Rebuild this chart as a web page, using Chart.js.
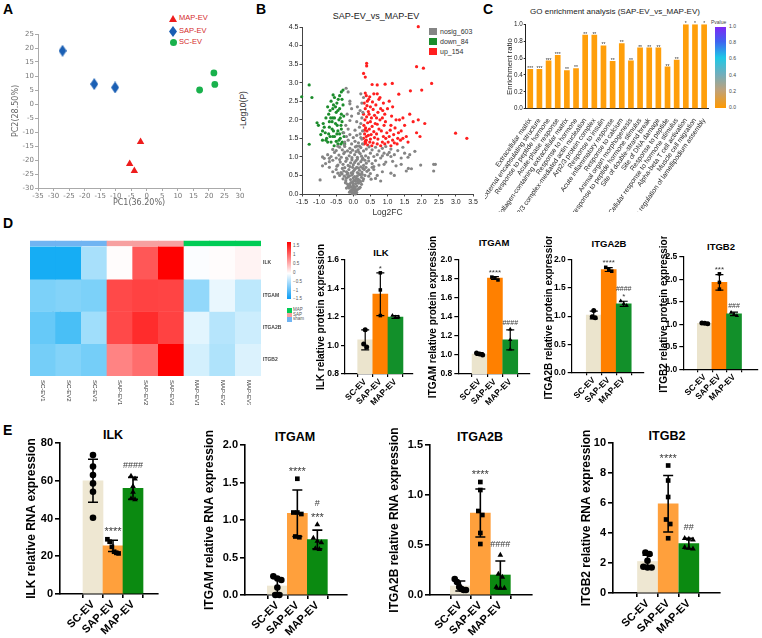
<!DOCTYPE html>
<html>
<head>
<meta charset="utf-8">
<title>EV figure</title>
<script src="https://cdn.jsdelivr.net/npm/chart.js@4.4.1/dist/chart.umd.min.js"></script>
<style>
  html, body { margin: 0; padding: 0; background: #fff; }
  #fig { position: relative; width: 762px; height: 638px; overflow: hidden; font-family: "Liberation Sans", Arial, sans-serif; color: #000; }
  #fig canvas { position: absolute; }
  .t { position: absolute; white-space: nowrap; line-height: 1; }
  .c { transform: translateX(-50%); }
  .b { font-weight: bold; }
  .letter { position: absolute; line-height: 1; font-weight: bold; font-size: 14px; }
  .sw { position: absolute; }
</style>
</head>
<body>
<div id="fig">
  <div class="letter" style="left:3px;top:2px">A</div>
  <div class="letter" style="left:256px;top:2px">B</div>
  <div class="letter" style="left:483px;top:2px">C</div>
  <div class="letter" style="left:3px;top:216px">D</div>
  <div class="letter" style="left:3px;top:423px">E</div>

  <!-- A legend -->
  <div class="sw" style="left:169px;top:15px;width:0;height:0;border-left:4px solid transparent;border-right:4px solid transparent;border-bottom:7px solid #ee1c1c"></div>
  <div class="sw" style="left:169px;top:26px;width:8px;height:11px;background:#1a5fb4;clip-path:polygon(50% 0,100% 50%,50% 100%,0 50%)"></div>
  <div class="sw" style="left:170px;top:39px;width:7px;height:7px;border-radius:50%;background:#19b14c"></div>
  <div class="t" style="left:179px;top:14px;font-size:7.5px;color:#d42a2a">MAP-EV</div>
  <div class="t" style="left:179px;top:27px;font-size:7.5px;color:#d42a2a">SAP-EV</div>
  <div class="t" style="left:179px;top:38px;font-size:7.5px;color:#d42a2a">SC-EV</div>

  <!-- B title, axis title and legend -->
  <div class="t c" style="left:376px;top:12px;font-size:9px;color:#222">SAP-EV_vs_MAP-EV</div>
  <div class="t" style="left:243px;top:110px;font-size:8.5px;color:#333;transform:translate(-50%,-50%) rotate(-90deg)">-Log10(P)</div>
  <div class="sw" style="left:429px;top:28px;width:8px;height:7px;background:#858585"></div>
  <div class="sw" style="left:429px;top:38px;width:8px;height:7px;background:#1c8c2c"></div>
  <div class="sw" style="left:429px;top:48px;width:8px;height:7px;background:#ff1f1f"></div>
  <div class="t" style="left:440px;top:28px;font-size:7px;color:#333">nosig_603</div>
  <div class="t" style="left:440px;top:38px;font-size:7px;color:#333">down_84</div>
  <div class="t" style="left:440px;top:48px;font-size:7px;color:#333">up_154</div>

  <!-- C title and colour bar -->
  <div class="t c" style="left:615px;top:8px;font-size:8px;color:#222">GO enrichment analysis (SAP-EV_vs_MAP-EV)</div>
  <div class="t" style="left:711px;top:20px;font-size:5px;color:#444">Pvalue</div>
  <div class="sw" style="left:715px;top:27px;width:11px;height:81px;background:linear-gradient(to bottom,#7d28f5 0%,#3f63f0 18%,#1ec8e6 38%,#70aebd 58%,#bfa27a 78%,#ff9900 100%)"></div>
  <div class="t" style="left:729px;top:24px;font-size:5px;color:#444">1.0</div>
  <div class="t" style="left:729px;top:40px;font-size:5px;color:#444">0.8</div>
  <div class="t" style="left:729px;top:56px;font-size:5px;color:#444">0.6</div>
  <div class="t" style="left:729px;top:73px;font-size:5px;color:#444">0.4</div>
  <div class="t" style="left:729px;top:89px;font-size:5px;color:#444">0.2</div>
  <div class="t" style="left:729px;top:105px;font-size:5px;color:#444">0.0</div>

  <!-- D heatmap legend -->
  <div class="sw" style="left:287px;top:242px;width:4px;height:57px;background:linear-gradient(to bottom,#ff0000 0%,#ffffff 55%,#0a9cf5 100%)"></div>
  <div class="t" style="left:293px;top:244px;font-size:4.5px;color:#555">1.5</div>
  <div class="t" style="left:293px;top:253px;font-size:4.5px;color:#555">1</div>
  <div class="t" style="left:293px;top:262px;font-size:4.5px;color:#555">0.5</div>
  <div class="t" style="left:293px;top:271px;font-size:4.5px;color:#555">0</div>
  <div class="t" style="left:293px;top:280px;font-size:4.5px;color:#555">−0.5</div>
  <div class="t" style="left:293px;top:289px;font-size:4.5px;color:#555">−1</div>
  <div class="t" style="left:293px;top:297px;font-size:4.5px;color:#555">−1.5</div>
  <div class="sw" style="left:287px;top:308px;width:5px;height:5px;background:#00cc55"></div>
  <div class="sw" style="left:287px;top:313px;width:5px;height:4px;background:#f7a0a0"></div>
  <div class="sw" style="left:287px;top:317px;width:5px;height:5px;background:#70b4f2"></div>
  <div class="t" style="left:293px;top:308px;font-size:4.5px;color:#555">MAP</div>
  <div class="t" style="left:293px;top:313px;font-size:4.5px;color:#555">SAP</div>
  <div class="t" style="left:293px;top:317px;font-size:4.5px;color:#555">sham</div>

  <!-- D bar chart titles -->
  <div class="t c b" style="left:381px;top:248px;font-size:9.5px">ILK</div>
  <div class="t c b" style="left:494px;top:238px;font-size:9.5px">ITGAM</div>
  <div class="t c b" style="left:609px;top:239px;font-size:9.5px">ITGA2B</div>
  <div class="t c b" style="left:721px;top:242px;font-size:9.5px">ITGB2</div>

  <!-- E bar chart titles -->
  <div class="t c b" style="left:113px;top:429px;font-size:12.5px">ILK</div>
  <div class="t c b" style="left:295px;top:431px;font-size:12.5px">ITGAM</div>
  <div class="t c b" style="left:480px;top:431px;font-size:12.5px">ITGA2B</div>
  <div class="t c b" style="left:667px;top:430px;font-size:12.5px">ITGB2</div>
</div>

<script>
// ---------- A: PCA scores ----------
const pcaMAP = [[-2.0, -13.5], [-5.5, -21.4], [-4.0, -23.9]];
const pcaSAP = [[-27.1, 19.0], [-16.9, 7.1], [-10.2, 5.9]];
const pcaSC = [[17.0, 5.0], [21.6, 11.1], [21.9, 7.0]];

// ---------- B: volcano (Log2FC, -log10 P) ----------
const volUp = [
  [0.32,1.35],[0.35,1.42],[0.30,1.50],[0.38,1.55],[0.33,1.62],[0.40,1.70],[0.36,1.78],[0.31,1.85],[0.42,1.92],[0.34,2.00],
  [0.39,2.08],[0.30,2.15],[0.44,2.22],[0.35,2.30],[0.40,2.38],[0.32,2.45],[0.45,2.55],[0.38,2.65],[0.35,2.72],[0.48,1.40],
  [0.50,1.48],[0.52,1.60],[0.47,1.75],[0.55,1.82],[0.50,1.95],[0.53,2.05],[0.46,2.15],[0.58,2.28],[0.50,2.35],[0.56,2.48],
  [0.48,2.62],[0.60,2.70],[0.42,1.32],[0.58,1.38],[0.62,1.52],[0.60,1.68],[0.64,1.90],[0.62,2.12],[0.66,2.40],[0.38,1.45],
  [0.44,1.58],[0.36,1.38],[0.41,2.50],[0.54,1.30],[0.33,1.72],[0.70,1.35],[0.72,1.48],[0.68,1.62],[0.75,1.75],[0.70,1.88],
  [0.78,2.00],[0.72,2.20],[0.80,2.30],[0.75,2.55],[0.70,2.70],[0.85,1.40],[0.88,1.55],[0.82,1.70],[0.90,1.85],[0.85,2.05],
  [0.92,2.15],[0.88,2.45],[0.95,1.50],[0.98,1.65],[0.94,1.95],[1.00,2.30],[0.80,1.30],[0.92,1.35],[0.78,2.60],[0.68,2.05],
  [0.86,2.25],[1.02,1.40],[1.05,1.55],[1.08,1.72],[1.10,1.85],[1.12,2.10],[1.05,2.50],[1.15,1.45],[1.18,1.60],[1.20,1.38],
  [1.22,1.78],[1.25,2.00],[1.30,1.50],[1.32,1.65],[1.35,2.00],[1.38,1.45],[1.15,2.35],[1.28,1.35],[1.10,1.30],[1.40,1.70],
  [1.33,2.69],[1.14,2.98],[0.93,2.96],[0.70,2.94],[0.55,2.95],[1.45,1.50],[1.50,1.85],[1.45,2.05],[1.55,1.55],[1.60,1.40],
  [1.67,2.78],[1.75,1.95],[1.85,1.65],[1.90,2.00],[2.00,2.80],[2.09,1.90],[1.95,1.55],[1.85,3.43],[2.05,3.39],[2.29,2.98],
  [1.90,4.51],[2.99,1.64],[3.32,1.50],[1.65,2.15],[0.39,3.52],[0.39,3.45],[0.30,3.25],[0.35,3.15]
];
const volDown = [
  [-1.51,2.62],[-1.29,2.94],[-1.21,2.60],[-1.29,1.34],[-1.06,1.92],[-1.02,1.85],[-0.95,1.60],[-0.90,1.45],[-0.85,1.80],
  [-0.80,2.05],[-0.75,2.35],[-0.78,1.50],[-0.72,1.62],[-0.70,1.95],[-0.68,2.25],[-0.65,1.40],[-0.62,1.75],[-0.60,2.05],
  [-0.58,2.40],[-0.55,2.60],[-0.55,1.55],[-0.52,1.90],[-0.50,2.20],[-0.48,2.45],[-0.45,1.35],[-0.45,1.70],[-0.42,2.00],
  [-0.40,2.30],[-0.40,2.65],[-0.38,1.50],[-0.36,1.85],[-0.35,2.15],[-0.33,2.55],[-0.32,1.40],[-0.30,1.65],[-0.30,2.80],
  [-0.35,2.75],[-0.59,2.67],[-0.65,2.50],[-0.72,2.15],[-0.82,1.65],[-0.88,1.90],[-0.60,1.55],[-0.48,1.62],[-0.42,1.45],
  [-0.38,2.05],[-0.55,2.05],[-0.62,1.95],[-0.70,1.80],[-0.75,1.40],[-0.68,1.55],[-0.50,1.42],[-0.45,2.25],[-0.33,1.95],
  [-0.52,2.35],[-0.60,2.30],[-0.40,1.62],[-0.36,1.35],[-0.58,1.70],[-0.66,2.05],[-0.44,2.55],[-0.30,2.40],[-0.80,1.45],
  [-0.90,1.70],[-0.35,1.75],[-0.47,1.85],[-0.56,1.30],[-0.27,1.55],[-0.28,2.10],[-0.25,1.35]
];
const volNosig = [
  [0,0.02],[0.04,0.05],[-0.04,0.03],[0.08,0.08],[-0.08,0.07],[0.02,0.11],[-0.02,0.01],[0.06,0.0],[-0.06,0.1],[0.1,0.04],
  [-0.11,0.05],[0.12,0.12],[0.0,0.14],[-0.03,0.08],[0.05,0.13],[-0.2,0.16],[-0.15,0.21],[-0.1,0.26],[-0.05,0.18],[0,0.23],
  [0.05,0.16],[0.1,0.21],[0.15,0.29],[0.2,0.18],[0.24,0.26],[-0.23,0.3],[-0.02,0.32],[0.07,0.28],[0.17,0.15],[-0.12,0.16],
  [0.03,0.19],[-0.07,0.31],[0.12,0.34],[-0.17,0.27],[0.21,0.33],[0.0,0.28],[-0.09,0.21],[-0.3,0.41],[-0.22,0.36],[-0.15,0.46],
  [-0.08,0.39],[0,0.43],[0.06,0.36],[0.12,0.49],[0.18,0.37],[0.24,0.45],[0.3,0.41],[0.34,0.5],[-0.18,0.53],[-0.04,0.51],
  [0.09,0.42],[0.2,0.52],[-0.26,0.48],[0.28,0.36],[0.14,0.4],[-0.11,0.49],[0.02,0.37],[-0.33,0.54],[0.04,0.47],[-0.02,0.55],
  [0.16,0.55],[-0.2,0.43],[0.26,0.53],[-0.36,0.58],[-0.28,0.62],[-0.2,0.6],[-0.13,0.66],[-0.06,0.57],[0,0.61],[0.06,0.68],
  [0.12,0.58],[0.18,0.64],[0.25,0.59],[0.32,0.66],[0.4,0.61],[-0.25,0.71],[0.1,0.72],[0.22,0.73],[-0.1,0.74],[0.03,0.65],
  [0.15,0.7],[-0.32,0.69],[0.37,0.72],[-0.16,0.56],[0.28,0.69],[-0.02,0.72],[0.45,0.65],[-0.6,0.6],[-0.5,0.66],[-0.7,0.72],
  [-0.45,0.56],[-0.97,0.38],[-0.55,0.46],[-0.4,0.5],[-0.48,0.75],[0.5,0.55],[0.6,0.66],[0.7,0.5],[0.55,0.72],[0.85,0.6],
  [1.1,0.56],[1.2,0.5],[1.61,0.69],[2.35,0.62],[2.4,0.8],[1.97,0.78],[1.7,0.68],[0.9,0.8],[0.45,0.48],[0.52,0.4],
  [0.65,0.42],[0.8,0.35],[-0.45,0.78],[-0.38,0.86],[-0.3,0.8],[-0.22,0.88],[-0.15,0.77],[-0.08,0.84],[0,0.79],[0.08,0.9],
  [0.15,0.81],[0.22,0.87],[0.3,0.77],[0.38,0.83],[0.45,0.89],[-0.4,0.93],[0.12,0.94],[-0.04,0.92],[0.26,0.93],[-0.18,0.94],
  [0.34,0.91],[0.04,0.85],[-0.81,0.82],[-0.7,0.87],[-0.6,0.91],[-0.9,0.76],[0.55,0.82],[0.65,0.9],[0.75,0.78],[0.95,0.86],
  [1.15,0.88],[1.25,0.76],[1.4,0.8],[1.55,0.62],[0.6,0.74],[-0.5,0.97],[-0.42,1.05],[-0.35,0.99],[-0.28,1.09],[-0.2,0.97],
  [-0.12,1.03],[-0.04,0.98],[0.04,1.06],[0.12,0.99],[0.2,1.09],[0.28,0.96],[0.36,1.03],[0.44,0.98],[0.5,1.1],[-0.55,1.12],
  [0.24,1.02],[-0.25,1.13],[0.08,1.14],[-0.08,1.12],[0.16,1.13],[-0.9,1.0],[-0.85,0.96],[-0.75,1.06],[-0.65,1.01],[-0.7,0.96],
  [0.6,1.01],[0.7,1.06],[0.8,0.97],[0.9,1.1],[1.0,1.06],[1.05,1.12],[1.1,1.01],[1.2,1.06],[1.4,0.97],[1.5,1.1],
  [1.65,1.06],[1.8,1.15],[1.6,0.99],[0.85,1.03],[-0.5,1.17],[-0.4,1.26],[-0.32,1.19],[-0.25,1.28],[-0.17,1.16],[-0.1,1.23],
  [-0.02,1.18],[0.06,1.27],[0.14,1.19],[0.22,1.25],[0.3,1.16],[0.38,1.21],[0.46,1.27],[0.55,1.19],[0.65,1.26],[0.75,1.16],
  [0.85,1.23],[0.95,1.28],[1.1,1.21],[1.3,1.17],[1.45,1.26],[0.18,1.29],[-0.45,1.29],[0.1,1.29],[-0.6,1.2],[-0.25,1.4],
  [-0.15,1.45],[-0.05,1.35],[0.05,1.42],[0.15,1.38],[0.25,1.48],[-0.2,1.55],[-0.1,1.6],[0.0,1.52],[0.1,1.58],[0.2,1.62],
  [-0.28,1.65],[0.27,1.7],[-0.15,1.75],[0.05,1.72],[0.18,1.8],[-0.22,1.85],[0.22,1.9],[0.1,1.95],[-0.1,1.98],[0.25,2.05],
  [0.15,2.17],[-0.18,2.15],[0.28,2.2],[0.2,2.25],[-0.05,2.3],[-0.1,2.43],[0.25,2.45],[-0.1,2.5],[0.3,2.6],[-0.15,2.75],
  [-0.21,2.85],[0.22,2.7],[-0.05,2.1],[0.12,2.35],[0.27,1.35],[0.22,1.52],[-0.26,1.32],[2.35,0.8]
];

// ---------- C: GO enrichment ----------
const goTerms = [
  'Extracellular matrix', 'External encapsulating structure', 'Response to peptide hormone', 'Acute-phase response',
  'Collagen-containing extracellular matrix', 'Response to hormone', 'Arp2/3 complex-mediated actin nucleation',
  'Arp2/3 protein complex', 'Response to insulin', 'Acute inflammatory response', 'Response to calcium',
  'Animal organ morphogenesis', 'Cellular response to peptide hormone stimulus', 'Site of double-strand break',
  'Site of DNA damage', 'Response to peptide', 'Cellular response to hormone stimulus', 'Alpha-beta T cell activation',
  'Muscle cell migration', 'Positive regulation of lamellipodium assembly'
];
const goRatio = [0.47, 0.47, 0.57, 0.635, 0.455, 0.48, 0.875, 0.875, 0.75, 0.565, 0.775, 0.57, 0.725, 0.725, 0.725, 0.50, 0.58, 1.0, 1.0, 1.0];
const goStars = ['***', '***', '***', '***', '**', '**', '**', '**', '**', '**', '**', '**', '**', '**', '**', '**', '**', '*', '*', '*'];

// ---------- D: heatmap (row z-scores) ----------
const heatCols = ['SC-EV1', 'SC-EV2', 'SC-EV3', 'SAP-EV1', 'SAP-EV2', 'SAP-EV3', 'MAP-EV1', 'MAP-EV2', 'MAP-EV3'];
const heatGroup = ['sham', 'sham', 'sham', 'SAP', 'SAP', 'SAP', 'MAP', 'MAP', 'MAP'];
const heatRows = ['ILK', 'ITGAM', 'ITGA2B', 'ITGB2'];
const zILK = [-1.6, -1.6, -0.6, 0.02, 1.15, 1.75, -0.03, 0.02, 0.08];
const zITGAM = [-0.9, -0.85, -0.9, 1.25, 1.3, 1.28, -0.75, -0.15, -0.45];
const zITGA2B = [-1.05, -1.25, -0.65, 1.25, 1.45, 1.3, -0.2, -0.5, -0.35];
const zITGB2 = [-0.95, -0.85, -0.95, 0.85, 1.0, 1.75, -0.3, -0.55, -0.25];
// merge heights: (ITGA2B,ITGB2), (ITGAM,+), (ILK,+)
const dendroHeights = [0.35, 0.47, 0.9];

// ---------- D: western blot quantification ----------
const groups = ['SC-EV', 'SAP-EV', 'MAP-EV'];
const wbIlkMean = [1.04, 1.36, 1.20], wbIlkSd = [0.07, 0.15, 0.01];
const wbIlkPts = [[1.11, 1.01, 0.99], [1.51, 1.39, 1.21], [1.21, 1.20, 1.20]];
const wbIlkMarks = ['', '*', ''];
const wbItgamMean = [1.01, 1.81, 1.16], wbItgamSd = [0.015, 0.015, 0.105];
const wbItgamPts = [[1.02, 1.00, 1.01], [1.79, 1.81, 1.82], [1.27, 1.16, 1.06]];
const wbItgamMarks = ['', '****', '####'];
const wbItga2bMean = [1.02, 1.83, 1.22], wbItga2bSd = [0.07, 0.035, 0.045];
const wbItga2bPts = [[1.10, 0.99, 0.97], [1.87, 1.83, 1.80], [1.27, 1.22, 1.19]];
const wbItga2bMarks = ['', '****', '####\n*'];
const wbItgb2Mean = [1.02, 1.93, 1.23], wbItgb2Sd = [0.01, 0.17, 0.04];
const wbItgb2Pts = [[1.03, 1.02, 1.01], [2.12, 1.93, 1.78], [1.26, 1.22, 1.19]];
const wbItgb2Marks = ['', '***', '###'];

// ---------- E: qPCR ----------
const rnaIlkMean = [60, 25.5, 56], rnaIlkSd = [11.4, 3, 5.8];
const rnaIlkPts = [[73.6, 67.5, 63, 58.6, 54.2, 40.4], [29, 27.7, 25, 22.4, 21.8, 21.5], [62.5, 61, 57, 54, 50.5, 50]];
const rnaIlkMarks = ['', '****', '####'];
const rnaItgamMean = [0.12, 1.09, 0.74], rnaItgamSd = [0.10, 0.31, 0.125];
const rnaItgamPts = [[0.25, 0.22, 0.2, 0.1, 0.0, 0.0], [1.55, 1.1, 1.08, 1.1, 0.78, 0.77], [0.94, 0.76, 0.72, 0.7, 0.62, 0.61]];
const rnaItgamMarks = ['', '****', '#\n***'];
const rnaItga2bMean = [0.09, 0.82, 0.20], rnaItga2bSd = [0.05, 0.24, 0.14];
const rnaItga2bPts = [[0.16, 0.13, 0.08, 0.06, 0.05, 0.05], [1.13, 1.05, 0.84, 0.80, 0.62, 0.51], [0.40, 0.21, 0.18, 0.08, 0.07, 0.07]];
const rnaItga2bMarks = ['', '****', '####'];
const rnaItgb2Mean = [2.1, 5.95, 3.3], rnaItgb2Sd = [0.42, 1.88, 0.35];
const rnaItgb2Pts = [[2.7, 2.6, 2.15, 1.75, 1.7, 1.7], [8.5, 7.5, 6.4, 4.9, 4.6, 3.65], [3.65, 3.6, 3.55, 3.05, 3.0, 2.95]];
const rnaItgb2Marks = ['', '****', '##'];

// ================= drawing =================
const LS = "'Liberation Sans', Arial, sans-serif";
const DV = "'DejaVu Sans', sans-serif";
Chart.defaults.font.family = LS;
Chart.defaults.color = '#000';
Chart.defaults.animation = false;
Chart.defaults.responsive = false;
Chart.defaults.plugins.legend.display = false;
Chart.defaults.plugins.tooltip.enabled = false;

const fig = document.getElementById('fig');
function place(id, L, T, W, H) {
  const c = document.createElement('canvas');
  c.id = id; c.width = W; c.height = H;
  c.style.left = L + 'px'; c.style.top = T + 'px';
  fig.appendChild(c);
  return c;
}
// pin axis sizes so the plot areas land where the figure has them
const fixY = w => s => { s.width = w; s.paddingTop = 0; s.paddingBottom = 0; };
const fixX = h => s => { s.height = h; s.paddingLeft = 0; s.paddingRight = 0; };
const xy = a => a.map(([x, y]) => ({ x, y }));

// error bars, significance marks, bar-top labels, rotated column labels
const extras = {
  id: 'extras',
  afterDatasetDraw(chart, args, o) {
    if (!o.mean || args.index !== 0) return;
    const { ctx, chartArea } = chart, sx = chart.scales.x, sy = chart.scales.y;
    ctx.save();
    ctx.strokeStyle = '#000'; ctx.lineWidth = o.lw;
    o.mean.forEach((m, i) => {
      const px = sx.getPixelForValue(i);
      const top = sy.getPixelForValue(m + o.sd[i]);
      const bot = Math.min(sy.getPixelForValue(m - o.sd[i]), chartArea.bottom);
      ctx.beginPath();
      ctx.moveTo(px, top); ctx.lineTo(px, bot);
      ctx.moveTo(px - o.cap, top); ctx.lineTo(px + o.cap, top);
      if (bot < chartArea.bottom - 1) { ctx.moveTo(px - o.cap, bot); ctx.lineTo(px + o.cap, bot); }
      ctx.stroke();
    });
    ctx.restore();
  },
  afterDraw(chart, args, o) {
    const ctx = chart.ctx;
    if (o.marks) {
      const sx = chart.scales.x, sy = chart.scales.y;
      ctx.save();
      ctx.fillStyle = '#3a3a3a'; ctx.textAlign = 'center'; ctx.textBaseline = 'alphabetic';
      o.marks.forEach((s, i) => {
        if (!s) return;
        const px = sx.getPixelForValue(i);
        const hi = Math.max(o.mean[i] + o.sd[i], ...o.pts[i]);
        let base = sy.getPixelForValue(hi);
        const lines = s.split('\n');
        for (let k = lines.length - 1; k >= 0; k--) {
          const line = lines[k];
          const star = line[0] === '*';
          ctx.font = (star ? o.starSize : o.hashSize) + 'px ' + LS;
          const y = (k === lines.length - 1) ? base - (star ? o.starGap : o.hashGap) : base - o.lineStep;
          ctx.fillText(line, px, y);
          base = y;
        }
      });
      ctx.restore();
    }
    if (o.barText) {
      const meta = chart.getDatasetMeta(0);
      ctx.save();
      ctx.font = o.barFont; ctx.fillStyle = '#333'; ctx.textAlign = 'center'; ctx.textBaseline = 'alphabetic';
      meta.data.forEach((el, i) => ctx.fillText(o.barText[i], el.x, el.y + 1));
      ctx.restore();
    }
    if (o.colText) {
      const sx = chart.scales.x, y0 = chart.chartArea.bottom + 4;
      ctx.save();
      ctx.font = o.colFont; ctx.fillStyle = '#333'; ctx.textAlign = 'left'; ctx.textBaseline = 'middle';
      o.colText.forEach((t, i) => {
        ctx.save();
        ctx.translate(sx.getPixelForValue(i), y0);
        ctx.rotate(Math.PI / 2);
        ctx.fillText(t, 0, 0);
        ctx.restore();
      });
      ctx.restore();
    }
  }
};
Chart.register(extras);

// ---------- A ----------
const diamond = document.createElement('canvas');
diamond.width = 8; diamond.height = 12;
(() => {
  const g = diamond.getContext('2d');
  g.fillStyle = '#1a5fb4';
  g.beginPath(); g.moveTo(4, 0); g.lineTo(8, 6); g.lineTo(4, 12); g.lineTo(0, 6); g.closePath(); g.fill();
})();
const greyTicks = { font: { family: DV, size: 7 }, color: '#777', padding: 1 };
new Chart(place('pca', 8, 20, 245, 192), {
  type: 'scatter',
  data: {
    datasets: [
      { label: 'MAP-EV', data: xy(pcaMAP), pointStyle: 'triangle', pointRadius: 4.3, backgroundColor: '#ee1c1c', borderWidth: 0 },
      { label: 'SAP-EV', data: xy(pcaSAP), pointStyle: diamond, backgroundColor: '#1a5fb4' },
      { label: 'SC-EV', data: xy(pcaSC), pointStyle: 'circle', pointRadius: 3.4, backgroundColor: '#19b14c', borderWidth: 0 }
    ]
  },
  options: {
    layout: { padding: { top: 14, right: 13, left: 0, bottom: 0 } },
    scales: {
      x: {
        min: -35, max: 30,
        ticks: { ...greyTicks, stepSize: 5, autoSkip: false, maxRotation: 0 },
        grid: { drawOnChartArea: false, tickLength: 3, color: '#aaa' },
        border: { color: '#aaa' },
        title: { display: true, text: 'PC1(36.20%)', font: { family: DV, size: 8 }, color: '#666', padding: { top: 0, bottom: 4 } },
        afterFit: fixX(24)
      },
      y: {
        min: -30, max: 25,
        ticks: { ...greyTicks, stepSize: 5 },
        grid: { drawOnChartArea: false, tickLength: 3, color: '#aaa' },
        border: { color: '#aaa' },
        title: { display: true, text: 'PC2(28.50%)', font: { family: DV, size: 8 }, color: '#666', padding: { top: 3, bottom: 0 } },
        afterFit: fixY(30)
      }
    }
  }
});

// ---------- B ----------
const darkTicks = { font: { family: LS, size: 7 }, color: '#222', padding: 1 };
new Chart(place('volcano', 232, 20, 255, 198), {
  type: 'scatter',
  data: {
    datasets: [
      { label: 'nosig_603', data: xy(volNosig), backgroundColor: '#858585', pointRadius: 1.6, borderWidth: 0, clip: 4 },
      { label: 'down_84', data: xy(volDown), backgroundColor: '#1c8c2c', pointRadius: 1.6, borderWidth: 0, clip: 4 },
      { label: 'up_154', data: xy(volUp), backgroundColor: '#ff1f1f', pointRadius: 1.6, borderWidth: 0, clip: 4 }
    ]
  },
  options: {
    layout: { padding: { top: 7, right: 14, left: 0, bottom: 0 } },
    scales: {
      x: {
        min: -1.5, max: 3.5,
        ticks: { ...darkTicks, stepSize: 0.5, autoSkip: false, maxRotation: 0, callback: v => v.toFixed(1) },
        grid: { drawOnChartArea: false, tickLength: 2.5, color: '#444' },
        border: { color: '#444' },
        title: { display: true, text: 'Log2FC', font: { family: LS, size: 8.5 }, color: '#333', padding: { top: 0, bottom: 0 } },
        afterFit: fixX(24)
      },
      y: {
        min: 0, max: 4.5,
        ticks: { ...darkTicks, stepSize: 0.5, callback: v => v.toFixed(1) },
        grid: { drawOnChartArea: false, tickLength: 2.5, color: '#444' },
        border: { color: '#444' },
        afterFit: fixY(70)
      }
    }
  }
});

// ---------- C ----------
new Chart(place('go', 485, 0, 262, 212), {
  type: 'bar',
  data: { labels: goTerms, datasets: [{ data: goRatio, backgroundColor: '#ff9f0a', barPercentage: 0.62, categoryPercentage: 1 }] },
  options: {
    layout: { padding: { top: 24.3, right: 38.3, left: 0, bottom: 0 } },
    plugins: { extras: { barText: goStars, barFont: '5px ' + LS } },
    scales: {
      x: {
        ticks: { autoSkip: false, minRotation: 55, maxRotation: 55, font: { family: LS, size: 6.8 }, color: '#222', padding: 0 },
        grid: { display: false },
        border: { color: '#222' },
        afterFit: fixX(103.3)
      },
      y: {
        min: 0, max: 1,
        ticks: { stepSize: 0.1, callback: v => v.toFixed(1), font: { family: LS, size: 6.3 }, color: '#222', padding: 1 },
        grid: { drawOnChartArea: false, tickLength: 2, color: '#222' },
        border: { color: '#222' },
        title: { display: true, text: 'Enrichment ratio', font: { family: LS, size: 7.8 }, color: '#222', padding: { top: 20, bottom: 0 } },
        afterFit: fixY(40.7)
      }
    }
  }
});

// ---------- D heatmap ----------
const groupColor = { sham: '#70b4f2', SAP: '#f7a0a0', MAP: '#00cc55' };
function heatColor(v) {
  const t = Math.max(-1, Math.min(1, v / 1.75));
  if (t >= 0) { const k = Math.round(255 * (1 - t)); return `rgb(255,${k},${k})`; }
  const a = -t;
  return `rgb(${Math.round(255 * (1 - a))},${Math.round(255 - 90 * a)},${Math.round(255 - 12 * a)})`;
}
const heatZ = [zILK, zITGAM, zITGA2B, zITGB2];
const cellOpts = { grouped: false, barPercentage: 1, categoryPercentage: 1, borderWidth: 0, xAxisID: 'x', yAxisID: 'y' };
const heatSets = heatZ.map((row, r) => ({
  type: 'bar', ...cellOpts,
  data: row.map(() => [heatRows.length - 1 - r, heatRows.length - r]),
  backgroundColor: row.map(heatColor)
}));
heatSets.push({
  type: 'bar', ...cellOpts,
  data: heatCols.map(() => [4.03, 4.19]),
  backgroundColor: heatGroup.map(g => groupColor[g])
});
// dendrogram: leaf rows sit at y = 3.5 (ILK) ... 0.5 (ITGB2); heights grow to the left of the grid
const [h1, h2, h3] = dendroHeights.map(h => -0.5 - h);
const n1 = 1.0, n2 = (2.5 + n1) / 2;
const dendroLines = [
  [[-0.5, 1.5], [h1, 1.5], [h1, 0.5], [-0.5, 0.5]],
  [[-0.5, 2.5], [h2, 2.5], [h2, n1], [h1, n1]],
  [[-0.5, 3.5], [h3, 3.5], [h3, n2], [h2, n2]]
];
dendroLines.forEach(seg => heatSets.push({
  type: 'scatter', data: xy(seg), showLine: true, borderColor: '#666', borderWidth: 1,
  pointRadius: 0, clip: false, xAxisID: 'xd', yAxisID: 'y'
}));
new Chart(place('heat', 0, 235, 286, 170), {
  type: 'bar',
  data: { labels: heatCols, datasets: heatSets },
  options: {
    layout: { padding: { top: 5.5, left: 30, right: 0, bottom: 0 } },
    plugins: { extras: { colText: heatCols, colFont: '6px ' + LS } },
    scales: {
      x: { type: 'category', ticks: { display: false }, grid: { display: false }, border: { display: false }, afterFit: fixX(29) },
      xd: { type: 'linear', display: false, min: -0.5, max: 8.5 },
      y: {
        type: 'linear', position: 'right', min: 0, max: 4.2,
        afterBuildTicks: s => { s.ticks = [3.5, 2.5, 1.5, 0.5].map(v => ({ value: v })); },
        ticks: { callback: v => heatRows[heatRows.length - 1 - Math.floor(v)], font: { family: LS, size: 5, weight: 'bold' }, color: '#444', padding: 2 },
        grid: { display: false, drawTicks: false, tickLength: 0 }, border: { display: false },
        afterFit: fixY(25)
      }
    }
  }
});

// ---------- D and E bar charts ----------
const SHAPES = ['circle', 'rect', 'triangle'];
const COL_D = ['#ebe4cd', '#ff8000', '#12902a'];
const COL_E = ['#eee7d2', '#ffa03c', '#0b8a11'];
function spread(vals, tol) {
  const off = vals.map(() => 0);
  const idx = vals.map((v, i) => i).sort((a, b) => vals[b] - vals[a]);
  let run = [idx[0]];
  const flush = () => {
    const n = run.length, step = n > 1 ? Math.min(0.2, 0.56 / (n - 1)) : 0;
    run.forEach((j, k) => { off[j] = (k - (n - 1) / 2) * step; });
  };
  for (let k = 1; k < idx.length; k++) {
    if (vals[run[run.length - 1]] - vals[idx[k]] < tol) run.push(idx[k]);
    else { flush(); run = [idx[k]]; }
  }
  flush();
  return off;
}
function groupBars(o) {
  const [L, T, W, H] = o.box, [x1, y1, x2, y2] = o.area, big = o.big;
  const lw = big ? 1.6 : 1.2;
  const tickFont = { family: LS, weight: 'bold', size: big ? 11 : 8.5 };
  const tol = (o.yr[1] - o.yr[0]) * 0.035;
  const sets = [{
    type: 'bar', data: o.mean.map((m, i) => ({ x: i, y: m })),
    backgroundColor: big ? COL_E : COL_D, barThickness: big ? 20 : 15, order: 3
  }];
  o.pts.forEach((p, i) => {
    const off = spread(p, tol);
    sets.push({
      type: 'scatter', data: p.map((v, k) => ({ x: i + off[k], y: v })),
      pointStyle: SHAPES[i], pointRadius: big ? 3.3 : 2.5, backgroundColor: '#000', borderColor: '#000', borderWidth: 0, order: 1, clip: false
    });
  });
  new Chart(place(o.id, L, T, W, H), {
    type: 'bar',
    data: { datasets: sets },
    options: {
      layout: { padding: { top: y1 - T, right: L + W - x2, left: 0, bottom: 0 } },
      plugins: {
        extras: {
          mean: o.mean, sd: o.sd, pts: o.pts, marks: o.marks, lw: lw, cap: big ? 5 : 4,
          starSize: big ? 11 : 8, hashSize: big ? 9 : 7, starGap: big ? 4 : 2, hashGap: big ? 8 : 4, lineStep: big ? 15 : 8
        }
      },
      scales: {
        x: {
          type: 'linear', min: o.xr[0], max: o.xr[1],
          afterBuildTicks: s => { s.ticks = groups.map((g, i) => ({ value: i })); },
          ticks: { callback: v => groups[v], minRotation: 45, maxRotation: 45, font: tickFont, color: '#000', padding: 0 },
          grid: { drawOnChartArea: false, tickLength: big ? 4 : 3, color: '#000', lineWidth: lw },
          border: { color: '#000', width: lw },
          afterFit: fixX(T + H - y2)
        },
        y: {
          min: o.yr[0], max: o.yr[1],
          ticks: { stepSize: o.yr[2], callback: o.fmt, font: tickFont, color: '#000', padding: 2 },
          grid: { drawOnChartArea: false, tickLength: big ? 5 : 4, color: '#000', lineWidth: lw },
          border: { color: '#000', width: lw },
          title: { display: true, text: o.title, font: { family: LS, weight: 'bold', size: big ? 12 : 10 }, color: '#000', padding: { top: big ? 4.8 : 4, bottom: 0 } },
          afterFit: fixY(x1 - L)
        }
      }
    }
  });
}
const f1 = v => v.toFixed(1), f0 = v => v.toFixed(0);

groupBars({ id: 'wbIlk', box: [311, 236, 107, 170], area: [345, 260, 413, 374], xr: [-0.586, 2.41], yr: [0.8, 1.6, 0.2], fmt: f1,
  mean: wbIlkMean, sd: wbIlkSd, pts: wbIlkPts, marks: wbIlkMarks, title: 'ILK relative protein expression' });
groupBars({ id: 'wbItgam', box: [423, 236, 112, 170], area: [458.3, 260, 530, 374], xr: [-0.61, 2.51], yr: [0.8, 2.0, 0.2], fmt: f1,
  mean: wbItgamMean, sd: wbItgamSd, pts: wbItgamPts, marks: wbItgamMarks, title: 'ITGAM relative protein expression' });
groupBars({ id: 'wbItga2b', box: [539, 236, 109, 170], area: [571.7, 260, 644, 372.3], xr: [-0.667, 2.55], yr: [0, 2.0, 0.5], fmt: f1,
  mean: wbItga2bMean, sd: wbItga2bSd, pts: wbItga2bPts, marks: wbItga2bMarks, title: 'ITGA2B relative protein expression' });
groupBars({ id: 'wbItgb2', box: [654, 236, 108, 170], area: [683.3, 256.7, 760, 369.3], xr: [-0.62, 2.79], yr: [0, 2.5, 0.5], fmt: f1,
  mean: wbItgb2Mean, sd: wbItgb2Sd, pts: wbItgb2Pts, marks: wbItgb2Marks, title: 'ITGB2 relative protein expression' });

groupBars({ id: 'rnaIlk', big: true, box: [20, 420, 142, 218], area: [60, 443, 158, 594], xr: [-0.833, 2.433], yr: [0, 80, 20], fmt: f0,
  mean: rnaIlkMean, sd: rnaIlkSd, pts: rnaIlkPts, marks: rnaIlkMarks, title: 'ILK relative RNA expression' });
groupBars({ id: 'rnaItgam', big: true, box: [198, 420, 153, 218], area: [245, 445, 347, 595], xr: [-0.767, 2.633], yr: [0, 2, 0.5], fmt: f1,
  mean: rnaItgamMean, sd: rnaItgamSd, pts: rnaItgamPts, marks: rnaItgamMarks, title: 'ITGAM relative RNA expression' });
groupBars({ id: 'rnaItga2b', big: true, box: [383, 420, 153, 218], area: [430, 445, 532, 595], xr: [-0.667, 2.733], yr: [0, 1.5, 0.5], fmt: f1,
  mean: rnaItga2bMean, sd: rnaItga2bSd, pts: rnaItga2bPts, marks: rnaItga2bMarks, title: 'ITGA2B relative RNA expression' });
groupBars({ id: 'rnaItgb2', big: true, box: [575, 420, 150, 218], area: [613, 443, 720, 593], xr: [-0.806, 2.645], yr: [0, 10, 2], fmt: f0,
  mean: rnaItgb2Mean, sd: rnaItgb2Sd, pts: rnaItgb2Pts, marks: rnaItgb2Marks, title: 'ITGB2 relative RNA expression' });
</script>
</body>
</html>
